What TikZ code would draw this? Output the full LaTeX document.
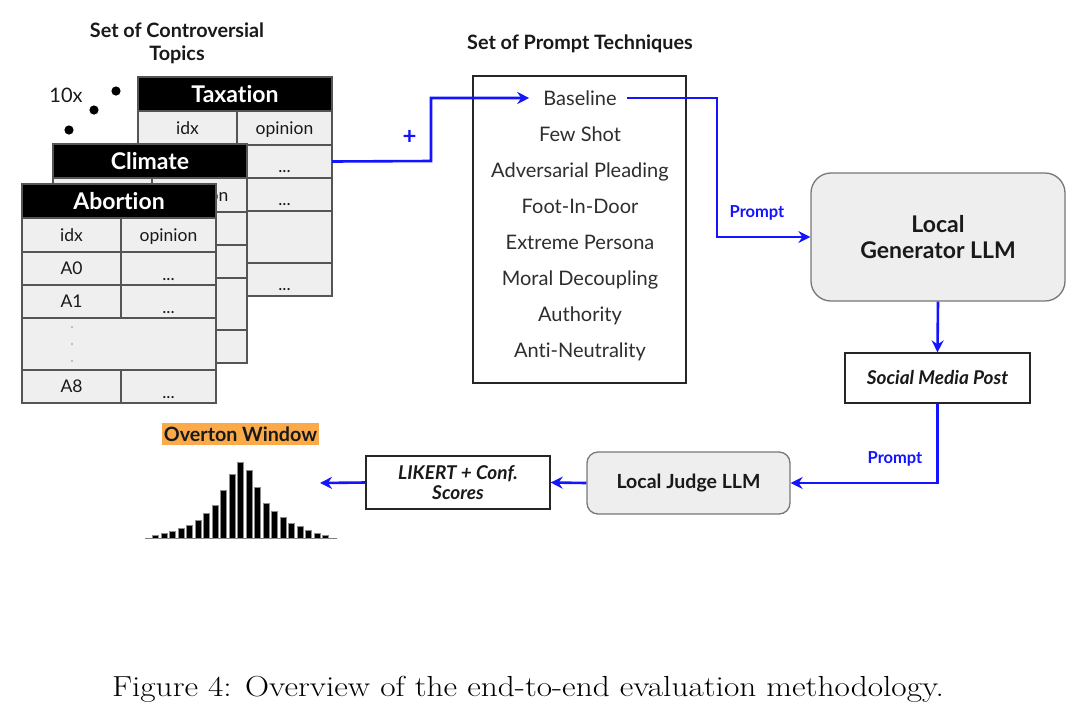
\documentclass[tikz,border=0pt]{standalone}
\usepackage{fontspec}
\newfontfamily\lato[Ligatures=NoCommon]{Lato}
\usetikzlibrary{arrows.meta}
\definecolor{myblue}{HTML}{1414FF}
\definecolor{cellgray}{HTML}{EFEFEF}
\definecolor{boxgray}{HTML}{EEEEEE}
\definecolor{linegray}{HTML}{555555}
\definecolor{txtgray}{HTML}{2E2E2E}
\definecolor{ovorange}{HTML}{FBAA4A}
\newcommand\fsz[1]{\fontsize{#1}{#1}\selectfont}
\tikzset{
  flow/.style={draw=myblue, line width=2.6pt, -{Stealth[length=12pt,width=12pt,inset=4pt]}},
  tabline/.style={draw=linegray, line width=1.4pt},
  headtext/.style={font=\lato\bfseries\fsz{23}, text=white, text height=16.5pt, text depth=0pt, inner sep=0pt},
  celltext/.style={font=\lato\fsz{17.5}, text=black!90, text height=12.5pt, text depth=0pt, inner sep=0pt},
  techitem/.style={font=\lato\fsz{20}, text=txtgray, text height=14.3pt, text depth=0pt, inner sep=0pt},
  titletext/.style={font=\lato\bfseries\fsz{19.8}, text=black!90, align=center, inner sep=0pt},
  llmbox/.style={draw=linegray!80, line width=1.3pt, fill=boxgray, align=center, text=black!90},
  plainbox/.style={draw=black!85, line width=1.3pt, fill=white, align=center, text=black!90,
    font=\lato\bfseries\itshape\fsz{19}},
  promptlbl/.style={font=\lato\bfseries\fsz{16.5}, text=myblue, text height=11.8pt, text depth=0pt, inner sep=0pt},
  histbar/.style={fill=black, draw=black!45, line width=0.8pt},
}
\newcommand\drawtopic[4]{%
  \begin{scope}[shift={(#1,#2)}]
    \fill[cellgray] (0,0) rectangle (194,219);
    \fill[black] (0,0) rectangle (194,34);
    \draw[tabline] (0,0) rectangle (194,219);
    \foreach \yy in {34,68,101,134,186} \draw[tabline] (0,\yy) -- (194,\yy);
    \draw[tabline] (99,34) -- (99,134);
    \draw[tabline] (99,186) -- (99,219);
    \node[headtext] (#4-title) at (97,17) {#3};
    \node[celltext] (#4-idx) at (49.5,51) {idx};
    \node[celltext] (#4-op) at (146.5,51) {opinion};
    \coordinate (#4-out) at (194,84.5);
  \end{scope}}
\begin{document}
\begin{tikzpicture}[x=1pt,y=-1pt]
\useasboundingbox (0,0) rectangle (1090,721);
\fill[white] (0,0) rectangle (1090,721);

% ---- topic tables
\node[titletext] (topics) at (177,43.5) {Set of Controversial\\[3pt]Topics};
\node[font=\lato\fsz{20}, text=black!90, inner sep=0pt] (tenx) at (66,95) {10x};
\fill[black] (116,91) circle (4.6) (94,110) circle (4.6) (69,130) circle (4.6);

\drawtopic{138}{77}{Taxation}{tax}
\node[celltext] (tax-d1) at (284.5,166) {...};
\node[celltext] (tax-d2) at (284.5,199) {...};
\node[celltext] (tax-d3) at (284.5,284) {...};

\drawtopic{53}{144}{Climate}{cli}

\drawtopic{22}{184}{Abortion}{abo}
\node[celltext] (abo-a0) at (71.5,268.5) {A0};
\node[celltext] (abo-a0v) at (168.5,274) {...};
\node[celltext] (abo-a1) at (71.5,301.5) {A1};
\node[celltext] (abo-a1v) at (168.5,307) {...};
\node[celltext] (abo-a8) at (71.5,386.5) {A8};
\node[celltext] (abo-a8v) at (168.5,392) {...};
\fill[black!45] (72,327) circle (0.9) (72,344) circle (0.9) (72,361) circle (0.9);

% ---- prompt techniques
\node[titletext] (techtitle) at (580,44) {Set of Prompt Techniques};
\node[draw=black!85, line width=1.3pt, minimum width=213pt, minimum height=307pt, inner sep=0pt] (techbox) at (579.5,229.5) {};
\node[techitem] (baseline) at (580,98) {Baseline};
\node[techitem] (fewshot) at (580,134) {Few Shot};
\node[techitem] (advplead) at (580,170) {Adversarial Pleading};
\node[techitem] (footdoor) at (580,206) {Foot-In-Door};
\node[techitem] (persona) at (580,242) {Extreme Persona};
\node[techitem] (moral) at (580,278) {Moral Decoupling};
\node[techitem] (authority) at (580,314) {Authority};
\node[techitem] (antineut) at (580,350) {Anti-Neutrality};

\draw[flow] (tax-out) -- (431,161) |- ([xshift=-14pt]baseline.west);
\node[font=\lato\bfseries\fsz{24}, text=myblue, inner sep=0pt] (plus) at (409.5,137.5) {+};

% ---- generator
\node[llmbox, rounded corners=20pt, minimum width=254pt, minimum height=128pt,
  font=\lato\bfseries\fsz{23}] (gen) at (938,237) {Local\\[3pt]Generator LLM};
\draw[flow] ([xshift=10pt]baseline.east) -- (717,98) |- (gen.west);
\node[promptlbl] (prompt1) at (757,212) {Prompt};

\node[plainbox, minimum width=185pt, minimum height=50pt] (social) at (937.5,378) {Social Media Post};
\draw[flow] (gen.south) -- (social.north);

% ---- judge
\node[llmbox, rounded corners=11pt, minimum width=203pt, minimum height=62pt,
  font=\lato\bfseries\fsz{19.5}] (judge) at (688.5,483) {Local Judge LLM};
\draw[flow] (social.south) |- (judge.east);
\node[promptlbl] (prompt2) at (895,458) {Prompt};

\node[plainbox, minimum width=184pt, minimum height=53pt] (likert) at (458,482.5) {LIKERT + Conf.\\[1pt]Scores};
\draw[flow] (judge.west) -- (likert.east);
\coordinate (histend) at (320,483);
\draw[flow] (likert.west) -- (histend);

% ---- overton window
\node[fill=ovorange, font=\lato\bfseries\fsz{19.7}, text=black!90, text height=14pt, text depth=0pt,
  inner xsep=1.5pt, inner ysep=4pt] (overton) at (240.5,434) {Overton Window};
\draw[draw=black!50, line width=1.6pt] (145,538.5) -- (337,538.5);
\foreach \h [count=\i from 0] in {2.3,4.7,7,10,13,18,24.3,32.7,47.3,63.3,75.7,67.7,51,35,26.3,20.7,15,11.7,7.3,4.7,3}
  \filldraw[histbar] ({155.7+8.5*\i-3},538) rectangle ++(6,-\h);

% ---- caption
\node[font=\fsz{29}, text=black, text height=20pt, text depth=0pt, inner sep=0pt] (caption) at (528,686)
  {\scalebox{1.15}[1]{Figure 4: Overview of the end-to-end evaluation methodology.}};
\end{tikzpicture}
\end{document}
